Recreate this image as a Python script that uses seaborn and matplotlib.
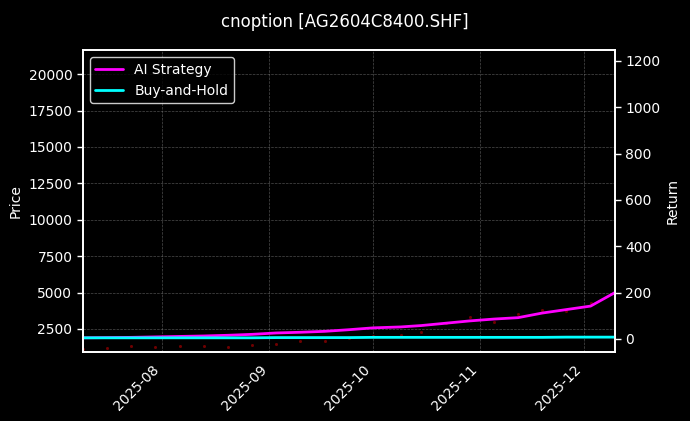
import matplotlib
matplotlib.use("Agg")
import matplotlib.pyplot as plt
import matplotlib.dates as mdates
import seaborn as sns
import pandas as pd

dates = ["2025-07-09","2025-07-16","2025-07-23","2025-07-30","2025-08-06","2025-08-13",
         "2025-08-20","2025-08-27","2025-09-03","2025-09-10","2025-09-17","2025-09-24",
         "2025-10-01","2025-10-09","2025-10-15","2025-10-22","2025-10-29","2025-11-05",
         "2025-11-12","2025-11-19","2025-11-26","2025-12-03","2025-12-10"]
price = [1150,1200,1300,1250,1300,1350,1280,1400,1500,1700,1650,1900,
         2000,2100,2300,2900,3300,3000,3500,3800,3700,4300,5300]
strategy = [5,6,7,9,11,13,16,20,26,29,33,40,
            48,52,58,68,78,86,92,112,127,142,200]
buyhold = [5,5,5,5,5,5,5,5,6,6,6,6,
           7,7,7,7,7,7,7,7,8,8,8]

df = pd.DataFrame({"date": pd.to_datetime(dates), "price": price,
                   "AI Strategy": strategy, "Buy-and-Hold": buyhold})

sns.set_theme(style="dark")
plt.rcParams.update({"figure.facecolor": "black", "axes.facecolor": "black",
                     "text.color": "white", "axes.labelcolor": "white",
                     "xtick.color": "white", "ytick.color": "white",
                     "axes.edgecolor": "white"})
plt.rcParams['font.family'] = ['DejaVu Sans']

fig, ax = plt.subplots(figsize=(6.9, 4.21), dpi=100)
fig.subplots_adjust(left=0.12, right=0.891, top=0.881, bottom=0.164)
sns.scatterplot(data=df, x="date", y="price", ax=ax, color="#a00000", s=4,
                alpha=0.7, edgecolor=None, legend=False)
ax.set_ylim(920, 21650)
ax.set_ylabel("Price", fontsize=10)
ax.set_xlabel("")
ax.grid(True, color="gray", linestyle="--", linewidth=0.5, alpha=0.6)

ax2 = ax.twinx()
sns.lineplot(data=df, x="date", y="AI Strategy", ax=ax2, color="#ff00ff", lw=2, label="AI Strategy")
sns.lineplot(data=df, x="date", y="Buy-and-Hold", ax=ax2, color="#00ffff", lw=2, label="Buy-and-Hold")
ax2.set_ylim(-56, 1247)
ax2.set_ylabel("Return", fontsize=10)
ax2.set_xlabel("")
ax2.grid(False)
ax.set_xlim(df["date"].iloc[0], df["date"].iloc[-1])
ax.xaxis.set_major_locator(mdates.MonthLocator())
ax.xaxis.set_major_formatter(mdates.DateFormatter("%Y-%m"))
for lab in ax.get_xticklabels():
    lab.set_rotation(45); lab.set_ha("right")
for a in (ax, ax2):
    a.tick_params(length=4, width=1, color="white", labelsize=10)
    for s in a.spines.values():
        s.set_color("white")
leg = ax2.legend(loc="upper left", facecolor="black", edgecolor="white", framealpha=0.8, fontsize=10)
for t in leg.get_texts():
    t.set_color("white")
fig.suptitle("cnoption [AG2604C8400.SHF]", color="white", fontsize=12, y=0.97)
fig.savefig("out.png", dpi=100, facecolor="black")
